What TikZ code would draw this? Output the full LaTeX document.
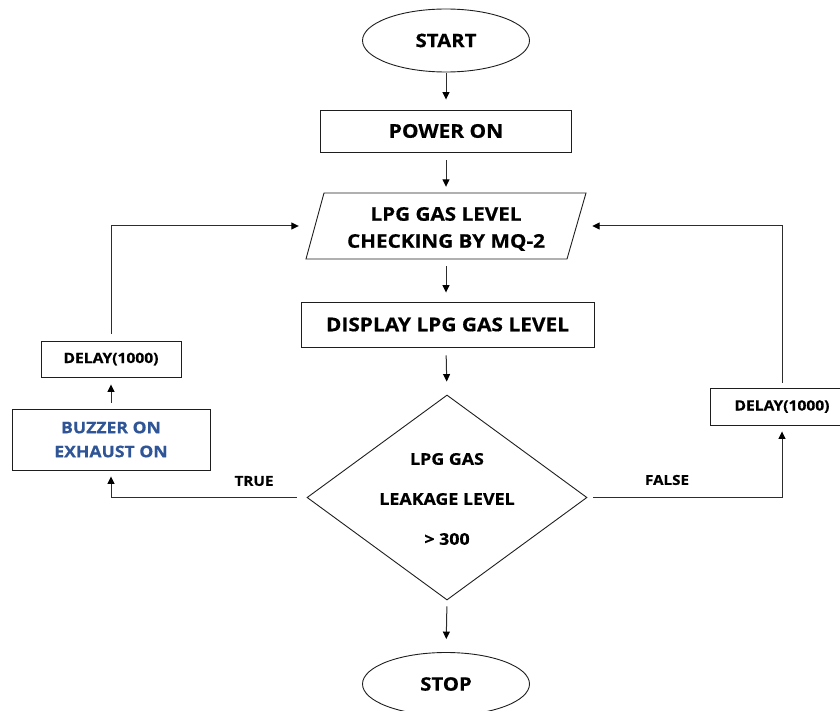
\documentclass[tikz,border=0pt]{standalone}
\usepackage{fontspec}
\setmainfont{Open Sans}[FakeStretch=1.1, BoldFeatures={FakeBold=0.5}]
\usetikzlibrary{shapes.geometric,arrows.meta}
\definecolor{buzblue}{RGB}{47,85,151}
\definecolor{edge}{RGB}{30,30,30}
\definecolor{conn}{RGB}{45,45,45}
\begin{document}
\begin{tikzpicture}[x=1pt,y=-1pt,
  shp/.style={draw=edge, line width=0.9pt},
  box/.style={shp, rectangle, inner sep=0pt, font=\bfseries\fontsize{19}{24}\selectfont},
  term/.style={shp, ellipse, inner sep=0pt, minimum width=167pt, minimum height=63pt, font=\bfseries\fontsize{18.5}{22}\selectfont},
  dly/.style={box, minimum height=36pt, font=\bfseries\fontsize{14.2}{18}\selectfont},
  lbl/.style={inner sep=0pt, font=\bfseries\fontsize{13.8}{16}\selectfont},
  arr/.style={draw=conn, line width=1pt, -{Triangle[length=7.5pt,width=7pt,fill=black,color=black]}}
]
\useasboundingbox (0,0) rectangle (840,711);

% main column
\node[term] (start) at (446,40.5) {START};
\node[box, minimum width=251pt, minimum height=42pt] (power) at (446,131) {POWER ON};
\draw[shp, line join=miter] (324,193) -- (586,193) -- (567,259) -- (306,259) -- cycle;
\node[inner sep=0pt, minimum width=262pt, minimum height=66pt] (para) at (446,226) {};
\node[inner sep=0pt, align=center, font=\bfseries\fontsize{18.8}{27}\selectfont] (paratext) at (446,229) {LPG GAS LEVEL\\CHECKING BY MQ-2};
\node[box, minimum width=293pt, minimum height=45pt] (disp) at (447.5,324.5) {DISPLAY LPG GAS LEVEL};
\node[shp, diamond, inner sep=0pt, minimum width=280pt, minimum height=205pt] (dec) at (447,497.5) {};
\node[inner sep=0pt, align=center, font=\bfseries\fontsize{16.2}{40}\selectfont] (dectext) at (447,499) {LPG GAS\\LEAKAGE LEVEL\\> 300};
\node[term] (stop) at (446,684) {STOP};

% left branch
\node[box, text=buzblue, align=center, minimum width=198pt, minimum height=61pt, font=\bfseries\fontsize{16}{24}\selectfont] (buzz) at (111,439.5) {BUZZER ON\\EXHAUST ON};
\node[dly, minimum width=140pt] (dl) at (111,359) {DELAY(1000)};

% right branch
\node[dly, minimum width=144pt, minimum height=37pt] (dr) at (782,406.5) {DELAY(1000)};

% labels
\node[lbl] (true) at (254,481) {TRUE};
\node[lbl] (false) at (667,480) {FALSE};

% connectors
\draw[arr, shorten <=1pt, shorten >=10pt] (start.south) -- (start.south |- power.north);
\draw[arr, shorten <=8pt, shorten >=6pt] (power.south) -- (power.south |- para.north);
\draw[arr, shorten <=7pt, shorten >=9pt] (para.south) -- (para.south |- disp.north);
\draw[arr, shorten <=8pt, shorten >=13pt] (para.south |- disp.south) -- (dec.north);
\draw[arr, shorten <=6pt, shorten >=13pt] (dec.south) -- (stop.north);

\draw[arr, shorten <=10pt, shorten >=6pt] (dec.west) -| (buzz.south);
\draw[arr, shorten <=6pt, shorten >=7pt] (buzz.north) -- (dl.south);
\draw[arr, shorten <=7pt, shorten >=16pt] (dl.north) |- (para.west);

\draw[arr, shorten <=6pt, shorten >=6pt] (dec.east) -| (dr.south);
\draw[arr, shorten <=5pt, shorten >=15pt] (dr.north) |- (para.east);
\end{tikzpicture}
\end{document}
